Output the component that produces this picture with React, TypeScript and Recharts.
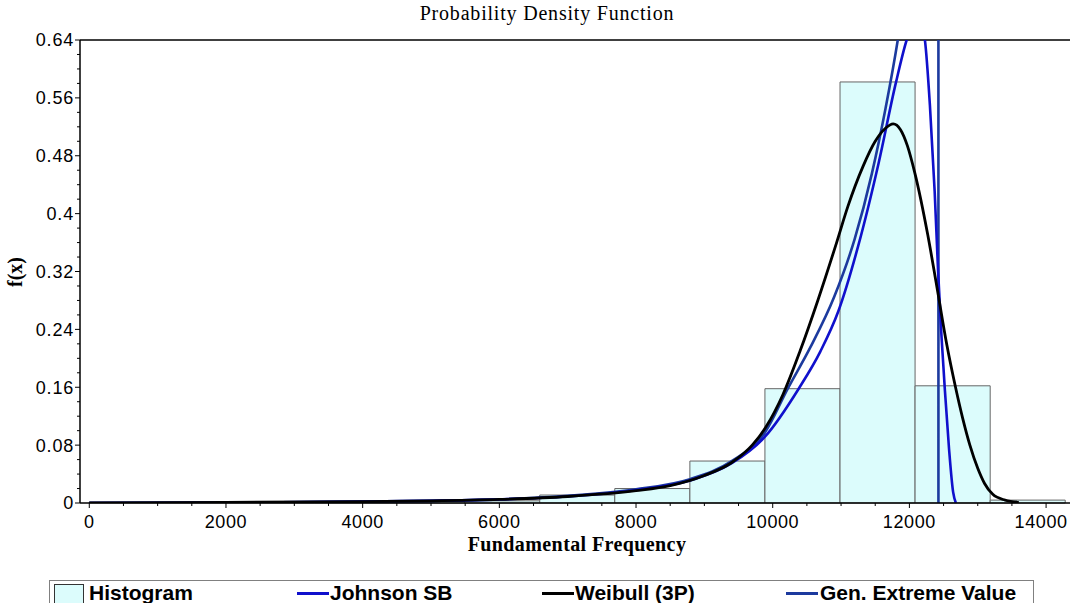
import React from "react";
import {
  ComposedChart,
  Line,
  XAxis,
  YAxis,
  ReferenceArea,
  ReferenceLine,
} from "recharts";

// ---- Histogram bins ----
const binStarts = [0, 1098, 2197, 3295, 4394, 5492, 6591, 7689, 8788, 9886, 10985, 12083, 13182];
const binEnds = [1098, 2197, 3295, 4394, 5492, 6591, 7689, 8788, 9886, 10985, 12083, 13182, 14280];
const binValues = [0.001, 0.001, 0.001, 0.001, 0.002, 0.003, 0.011, 0.02, 0.058, 0.158, 0.582, 0.162, 0.004];

// ---- Weibull (3P) ----
const weibullX = [0, 2000, 4000, 5000, 6000, 7000, 8000, 8500, 9000, 9400, 9700, 9900, 10150, 10400, 10660, 10935, 11100, 11320, 11500, 11650, 11763, 11870, 11970, 12080, 12270, 12400, 12549, 12675, 12780, 12885, 13000, 13100, 13220, 13400, 13600];
const weibullY = [0, 0.001, 0.002, 0.003, 0.005, 0.009, 0.017, 0.024, 0.038, 0.056, 0.08, 0.105, 0.15, 0.21, 0.28, 0.36, 0.41, 0.465, 0.5, 0.518, 0.524, 0.516, 0.494, 0.456, 0.37, 0.3, 0.218, 0.16, 0.117, 0.08, 0.048, 0.027, 0.012, 0.004, 0.001];

// ---- Johnson SB ----
const jsbX = [0, 2000, 2800, 4000, 5000, 6000, 7000, 8000, 8789, 9400, 9890, 10380, 10700, 10960, 11250, 11550, 11800, 11960, 12085, 12160, 12227, 12300, 12370, 12420, 12470, 12520, 12580, 12640, 12680];
const jsbY = [0, 0.0005, 0.001, 0.002, 0.003, 0.005, 0.009, 0.018, 0.031, 0.055, 0.092, 0.158, 0.21, 0.265, 0.355, 0.47, 0.58, 0.64, 0.67, 0.665, 0.64, 0.55, 0.43, 0.32, 0.23, 0.155, 0.075, 0.015, 0];

// ---- Gen. Extreme Value ----
const gevX = [0, 2000, 2800, 4000, 5000, 6000, 7000, 8000, 8789, 9400, 9890, 10220, 10550, 10900, 11200, 11450, 11650, 11830, 12000, 12200, 12350, 12424, 12425];
const gevY = [0, 0.0005, 0.001, 0.002, 0.003, 0.005, 0.01, 0.019, 0.033, 0.058, 0.098, 0.158, 0.215, 0.285, 0.365, 0.455, 0.545, 0.64, 0.75, 0.95, 1.3, 2.0, 0];

// ---- Ticks ----
const xMajorTicks = [0, 2000, 4000, 6000, 8000, 10000, 12000, 14000];
const xAllTicks = [0, 500, 1000, 1500, 2000, 2500, 3000, 3500, 4000, 4500, 5000, 5500, 6000, 6500, 7000, 7500, 8000, 8500, 9000, 9500, 10000, 10500, 11000, 11500, 12000, 12500, 13000, 13500, 14000];
const yMajorTicks = [0, 0.08, 0.16, 0.24, 0.32, 0.4, 0.48, 0.56, 0.64];
const yMajorLabels = ["0", "0.08", "0.16", "0.24", "0.32", "0.4", "0.48", "0.56", "0.64"];
const yAllTicks = [0, 0.02, 0.04, 0.06, 0.08, 0.1, 0.12, 0.14, 0.16, 0.18, 0.2, 0.22, 0.24, 0.26, 0.28, 0.3, 0.32, 0.34, 0.36, 0.38, 0.4, 0.42, 0.44, 0.46, 0.48, 0.5, 0.52, 0.54, 0.56, 0.58, 0.6, 0.62, 0.64];

const toPoints = (xs: number[], ys: number[]) => xs.map((x, i) => ({ x, y: ys[i] }));
const weibullData = toPoints(weibullX, weibullY);
const jsbData = toPoints(jsbX, jsbY);
const gevData = toPoints(gevX, gevY);

const HIST_FILL = "#dcfcfc";
const JSB_COLOR = "#1010cc";
const GEV_COLOR = "#1c3a9e";
const TICK_FONT = "'Liberation Sans', Arial, sans-serif";
const SERIF = "'Liberation Serif', 'Times New Roman', serif";

const YTick = (props: any) => {
  const { x, y, payload } = props;
  const v = payload.value;
  const idx = yMajorTicks.findIndex((m) => Math.abs(m - v) < 1e-9);
  const major = idx >= 0;
  return (
    <g>
      <line x1={x - (major ? 5 : 3)} x2={x} y1={y} y2={y} stroke="#000" strokeWidth={1} />
      {major && (
        <text x={x - 6} y={y} dy="0.36em" textAnchor="end" fontFamily={TICK_FONT} fontSize={18} letterSpacing={0.8} fill="#000">
          {yMajorLabels[idx]}
        </text>
      )}
    </g>
  );
};

const XTick = (props: any) => {
  const { x, y, payload } = props;
  const v = payload.value;
  const major = xMajorTicks.indexOf(v) >= 0;
  const isLast = v === xMajorTicks[xMajorTicks.length - 1];
  return (
    <g>
      <line x1={x} x2={x} y1={y} y2={y + (major ? 5 : 3)} stroke="#000" strokeWidth={1} />
      {major && (
        <text x={isLast ? x - 5 : x} y={y + 25} textAnchor="middle" fontFamily={TICK_FONT} fontSize={18} letterSpacing={0.6} fill="#000">
          {String(v)}
        </text>
      )}
    </g>
  );
};

const legendText: React.CSSProperties = {
  position: "absolute",
  top: 581,
  fontFamily: TICK_FONT,
  fontWeight: "bold",
  fontSize: 21,
  lineHeight: "24px",
  color: "#000",
  whiteSpace: "nowrap",
};

const legendLine = (left: number, color: string): React.CSSProperties => ({
  position: "absolute",
  left,
  top: 592,
  width: 32,
  height: 3,
  background: color,
});

export default function App() {
  return (
    <div style={{ position: "absolute", left: 0, top: 0, width: 1072, height: 603, background: "#fff", overflow: "hidden" }}>
      <ComposedChart width={1072} height={603} margin={{ top: 40, right: 2, bottom: 40, left: 0 }}>
        <XAxis
          dataKey="x"
          type="number"
          domain={[-136, 14350]}
          allowDataOverflow
          ticks={xAllTicks}
          interval={0}
          tickSize={0}
          tickMargin={0}
          tickLine={false}
          tick={<XTick />}
          height={60}
          axisLine={{ stroke: "#000", strokeWidth: 1.5 }}
        />
        <YAxis
          dataKey="y"
          type="number"
          domain={[0, 0.64]}
          allowDataOverflow
          ticks={yAllTicks}
          interval={0}
          tickSize={0}
          tickMargin={0}
          tickLine={false}
          tick={<YTick />}
          width={80}
          axisLine={{ stroke: "#000", strokeWidth: 1.5 }}
        />
        {binStarts.map((s, i) => (
          <ReferenceArea
            key={"bin" + i}
            x1={s}
            x2={binEnds[i]}
            y1={0}
            y2={binValues[i]}
            fill={HIST_FILL}
            fillOpacity={1}
            stroke="#666"
            strokeWidth={1}
          />
        ))}
        <ReferenceLine y={0.64} stroke="#000" strokeWidth={1.5} />
        <Line data={gevData} dataKey="y" type="monotone" stroke={GEV_COLOR} strokeWidth={2.6} dot={false} activeDot={false} isAnimationActive={false} />
        <Line data={jsbData} dataKey="y" type="monotone" stroke={JSB_COLOR} strokeWidth={2.6} dot={false} activeDot={false} isAnimationActive={false} />
        <Line data={weibullData} dataKey="y" type="monotone" stroke="#000" strokeWidth={2.8} dot={false} activeDot={false} isAnimationActive={false} />
        <text x={547} y={20} textAnchor="middle" fontFamily={SERIF} fontSize={20} letterSpacing={0.8} fill="#000">
          Probability Density Function
        </text>
        <text x={577} y={551} textAnchor="middle" fontFamily={SERIF} fontWeight="bold" fontSize={20} letterSpacing={0.4} fill="#000">
          Fundamental Frequency
        </text>
        <text x={22} y={272} textAnchor="middle" transform="rotate(-90 22 272)" fontFamily={SERIF} fontWeight="bold" fontSize={20} fill="#000">
          f(x)
        </text>
      </ComposedChart>
      <div style={{ position: "absolute", left: 49, top: 580, width: 985, height: 40, border: "1px solid #808080", boxSizing: "border-box" }} />
      <div style={{ position: "absolute", left: 54, top: 584, width: 30, height: 30, background: HIST_FILL, border: "1px solid #333", boxSizing: "border-box" }} />
      <div style={{ ...legendText, left: 89 }}>Histogram</div>
      <div style={legendLine(297, JSB_COLOR)} />
      <div style={{ ...legendText, left: 330 }}>Johnson SB</div>
      <div style={legendLine(542, "#000")} />
      <div style={{ ...legendText, left: 575 }}>Weibull (3P)</div>
      <div style={legendLine(786, GEV_COLOR)} />
      <div style={{ ...legendText, left: 820 }}>Gen. Extreme Value</div>
    </div>
  );
}
